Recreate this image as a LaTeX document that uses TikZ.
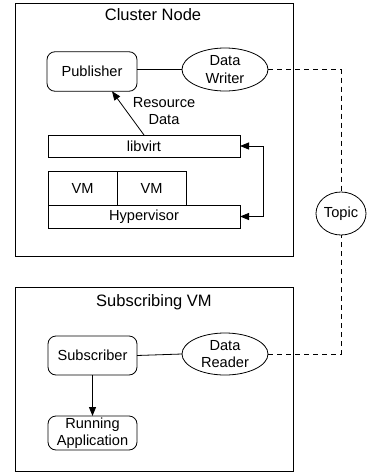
\documentclass[tikz,border=0pt]{standalone}
\usepackage{fontspec}
\setmainfont{Liberation Sans}
\usetikzlibrary{shapes.geometric,arrows.meta}
\begin{document}
\begin{tikzpicture}[x=1pt,y=-1pt,
  every node/.style={font=\fontsize{14.6}{17.5}\selectfont, inner sep=0pt, outer sep=0pt},
  frame/.style={draw, line width=0.8pt},
  rbox/.style={draw, line width=0.8pt, rounded corners=8pt, align=center},
  sbox/.style={draw, line width=0.8pt, align=center},
  ell/.style={draw, ellipse, line width=0.8pt, align=center},
  title/.style={anchor=base, font=\fontsize{16.5}{19}\selectfont},
  conn/.style={line width=0.8pt},
  arr/.style={line width=0.8pt, -{Triangle[length=9pt,width=7pt]}},
  darr/.style={line width=0.8pt, {Triangle[length=9pt,width=7pt]}-{Triangle[length=9pt,width=7pt]}},
  dashline/.style={dashed, dash pattern=on 5pt off 4pt, line width=0.8pt}]
\useasboundingbox (0,0) rectangle (368,474);
% Cluster node
\node[frame, minimum width=278pt, minimum height=253.5pt] (cluster) at (154.2,130) {};
\node[title] (ctitle) at (153,20.7) {Cluster Node};
\node[rbox, minimum width=90pt, minimum height=39.5pt] (pub) at (92,71.5) {Publisher};
\node[ell, minimum width=86pt, minimum height=43pt] (writer) at (225,69.5) {Data\\Writer};
\node[align=center] (res) at (164,111) {Resource\\Data};
\node[sbox, minimum width=192pt, minimum height=22pt] (libvirt) at (144,146) {libvirt};
\node[sbox, minimum width=69pt, minimum height=34pt] (vm1) at (82.5,188) {VM};
\node[sbox, minimum width=69pt, minimum height=34pt] (vm2) at (151.5,188) {VM};
\node[sbox, minimum width=192pt, minimum height=23pt] (hyper) at (144,216.5) {Hypervisor};
% Topic
\node[ell, minimum width=50pt, minimum height=43pt] (topic) at (341,213.5) {Topic};
% Subscribing VM
\node[frame, minimum width=278pt, minimum height=184.5pt] (subvm) at (154.2,379.5) {};
\node[title] (stitle) at (154,306.7) {Subscribing VM};
\node[rbox, minimum width=89pt, minimum height=39pt] (sub) at (92.5,355.5) {Subscriber};
\node[ell, minimum width=86pt, minimum height=42pt] (reader) at (225,354) {Data\\Reader};
\node[rbox, minimum width=89pt, minimum height=34pt] (app) at (92.5,433) {Running\\Application};
% connectors
\draw[conn] (pub.east |- writer.west) -- (writer.west);
\draw[arr] (libvirt.north) -- ([xshift=20pt]pub.south);
\draw[darr] (libvirt.east) -- ++(23,0) |- (hyper.east);
\draw[dashline] (writer.east) -| (topic.north);
\draw[conn] (sub.east) -- (reader.west);
\draw[dashline] (reader.east) -| (topic.south);
\draw[arr] (sub.south) -- (app.north);
\end{tikzpicture}
\end{document}
